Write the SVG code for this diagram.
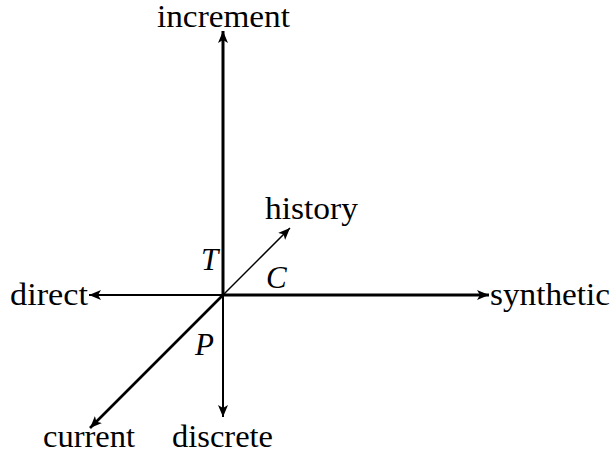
<svg xmlns="http://www.w3.org/2000/svg" width="613" height="456" viewBox="0 0 613 456">
<style>
text{font-family:'Liberation Serif','Times New Roman',serif;font-size:31px;fill:#000}
.i{font-style:italic}
.ax{stroke:#000;fill:none}
</style>
<defs>
<marker id="ah" markerUnits="userSpaceOnUse" markerWidth="14" markerHeight="10" refX="12" refY="5" orient="auto">
<path d="M0,0 L12,5 L0,10 L3,5 Z" fill="#000"/>
</marker>
</defs>
<rect width="613" height="456" fill="#fff"/>
<g id="connectors">
<line class="ax" x1="223" y1="295" x2="223" y2="31" stroke-width="3" marker-end="url(#ah)"/>
<line class="ax" x1="223" y1="295" x2="223" y2="417" stroke-width="2" marker-end="url(#ah)"/>
<line class="ax" x1="223" y1="295" x2="489" y2="295" stroke-width="3" marker-end="url(#ah)"/>
<line class="ax" x1="223" y1="295" x2="89" y2="295" stroke-width="2" marker-end="url(#ah)"/>
<line class="ax" x1="223" y1="295" x2="290" y2="228" stroke-width="1.5" marker-end="url(#ah)"/>
<line class="ax" x1="223" y1="295" x2="90" y2="428" stroke-width="2.6" marker-end="url(#ah)"/>
</g>
<g id="increment"><text x="157" y="27" textLength="133" lengthAdjust="spacingAndGlyphs">increment</text></g>
<g id="direct"><text x="10" y="305" textLength="78" lengthAdjust="spacingAndGlyphs">direct</text></g>
<g id="synthetic"><text x="490" y="305" textLength="120" lengthAdjust="spacingAndGlyphs">synthetic</text></g>
<g id="history"><text x="265" y="219" textLength="93" lengthAdjust="spacingAndGlyphs">history</text></g>
<g id="current"><text x="43" y="447" textLength="92" lengthAdjust="spacingAndGlyphs">current</text></g>
<g id="discrete"><text x="172" y="447" textLength="101" lengthAdjust="spacingAndGlyphs">discrete</text></g>
<g id="T"><text class="i" x="201" y="270">T</text></g>
<g id="C"><text class="i" x="266" y="288">C</text></g>
<g id="P"><text class="i" x="195" y="355">P</text></g>
</svg>
